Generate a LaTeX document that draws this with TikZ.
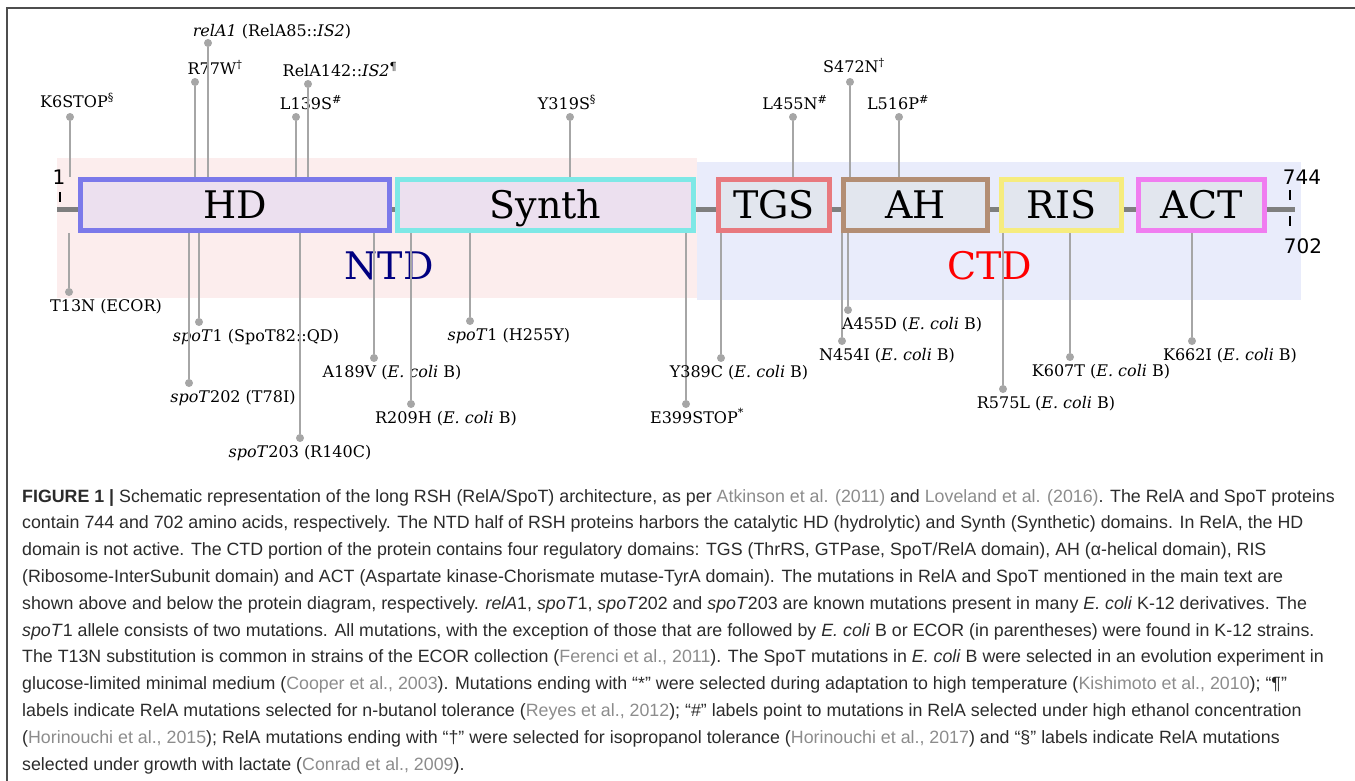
\documentclass[tikz,border=0pt]{standalone}
\usepackage{fontspec}
\setmainfont{DejaVu Serif}
\newfontfamily\numfont{DejaVu Sans}
\newfontfamily\capfont{Liberation Sans}
\usetikzlibrary{positioning}

\definecolor{framegray}{HTML}{4D4D4D}
\definecolor{ntdbg}{HTML}{FCEDED}
\definecolor{ctdbg}{HTML}{E9ECFB}
\definecolor{ntdfill}{HTML}{ECE0EF}
\definecolor{ctdfill}{HTML}{E2E6EE}
\definecolor{hdcol}{HTML}{7B79EA}
\definecolor{synthcol}{HTML}{7EE8E6}
\definecolor{tgscol}{HTML}{E8797E}
\definecolor{ahcol}{HTML}{B38E74}
\definecolor{riscol}{HTML}{F6EC7E}
\definecolor{actcol}{HTML}{F07DF0}
\definecolor{stemgray}{HTML}{A6A6A6}
\definecolor{chaingray}{HTML}{7F7F7F}
\definecolor{ntdnavy}{HTML}{000080}
\definecolor{citegray}{HTML}{8C8C8C}
\definecolor{captext}{HTML}{2B2B2B}

\begin{document}
\begin{tikzpicture}[
  x=1pt, y=-1pt,
  dombox/.style 2 args={
    draw=#1, fill=#2, line width=5pt, minimum height=51pt, inner sep=0pt,
    text height=27.5pt, text depth=0pt, font=\fontsize{38}{40}\selectfont
  },
  half/.style={font=\fontsize{38}{40}\selectfont, inner sep=0pt, anchor=base},
  mut/.style={font=\fontsize{16}{18}\selectfont, inner sep=0pt, anchor=base},
  mdot/.style={circle, fill=stemgray, minimum size=8pt, inner sep=0pt},
  stemline/.style={draw=stemgray, line width=2pt},
  num/.style={font=\numfont\fontsize{20}{22}\selectfont, inner sep=0pt, anchor=base},
  endtick/.style={draw=black, line width=1.6pt},
  capnode/.style={font=\capfont\fontsize{17.8}{26.8}\selectfont, text=captext,
    align=left, inner sep=0pt, anchor=north west}
]
\useasboundingbox (0,0) rectangle (1355,781);
\draw[framegray, line width=2pt] (7,781) -- (7,8) -- (1355,8);

% NTD / CTD halves
\fill[ntdbg] (57,158) rectangle (697,298);
\fill[ctdbg] (697,162) rectangle (1301,300);
\node[half, text=ntdnavy] (ntd) at (389,279) {NTD};
\node[half, text=red] (ctd) at (990,279) {CTD};

% chain and domains
\coordinate (nterm) at (57,209);
\coordinate (cterm) at (1295,209);
\draw[chaingray, line width=5pt] (nterm) -- (cterm);

\node[dombox={hdcol}{ntdfill}, minimum width=309pt] (hd) at (235,205) {HD};
\node[dombox={synthcol}{ntdfill}, minimum width=296pt] (synth) at (545.5,205) {Synth};
\node[dombox={tgscol}{ctdfill}, minimum width=111pt] (tgs) at (774,205) {TGS};
\node[dombox={ahcol}{ctdfill}, minimum width=144pt] (ah) at (915.5,205) {AH};
\node[dombox={riscol}{ctdfill}, minimum width=120pt] (ris) at (1061.5,205) {RIS};
\node[dombox={actcol}{ctdfill}, minimum width=126pt] (act) at (1201.5,205) {ACT};

\node[num] (aa1) at (59,185) {1};
\node[num] (aa744) at (1302,185) {744};
\node[num] (aa702) at (1303,253) {702};
\draw[endtick] (60,192) -- (60,202);
\draw[endtick] (1290,190) -- (1290,200);
\draw[endtick] (1290,216) -- (1290,226);

% RelA mutations (above)
\node[mdot] (k6) at (70,117) {};
\draw[stemline] (k6) -- (k6 |- hd.north);
\node[mut] (k6l) at (77,108) {K6STOP\textsuperscript{§}};

\node[mdot] (r77) at (195,82) {};
\draw[stemline] (r77) -- (r77 |- hd.north);
\node[mut] (r77l) at (215,75) {R77W\textsuperscript{†}};

\node[mdot] (rela1) at (208,43) {};
\draw[stemline] (rela1) -- (rela1 |- hd.north);
\node[mut] (rela1l) at (272,37) {\textit{relA1} (RelA85::\textit{IS2})};

\node[mdot] (l139) at (296,117) {};
\draw[stemline] (l139) -- (l139 |- hd.north);
\node[mut] (l139l) at (311,110) {L139S\textsuperscript{\#}};

\node[mdot] (r142) at (308,84) {};
\draw[stemline] (r142) -- (r142 |- hd.north);
\node[mut] (r142l) at (340,77) {RelA142::\textit{IS2}\textsuperscript{¶}};

\node[mdot] (y319) at (570,117) {};
\draw[stemline] (y319) -- (y319 |- synth.north);
\node[mut] (y319l) at (567,110) {Y319S\textsuperscript{§}};

\node[mdot] (l455) at (793,117) {};
\draw[stemline] (l455) -- (l455 |- tgs.north);
\node[mut] (l455l) at (795,110) {L455N\textsuperscript{\#}};

\node[mdot] (s472) at (850,82) {};
\draw[stemline] (s472) -- (s472 |- ah.north);
\node[mut] (s472l) at (854,73) {S472N\textsuperscript{†}};

\node[mdot] (l516) at (899,117) {};
\draw[stemline] (l516) -- (l516 |- ah.north);
\node[mut] (l516l) at (898,110) {L516P\textsuperscript{\#}};

% SpoT mutations (below)
\node[mdot] (t13) at (69,292) {};
\draw[stemline] (t13) -- (t13 |- hd.south);
\node[mut] (t13l) at (106,311) {T13N (ECOR)};

\node[mdot] (spot1a) at (199,322) {};
\draw[stemline] (spot1a) -- (spot1a |- hd.south);
\node[mut] (spot1al) at (256,341) {\textit{spoT}1 (SpoT82::QD)};

\node[mdot] (spot202) at (189,383) {};
\draw[stemline] (spot202) -- (spot202 |- hd.south);
\node[mut] (spot202l) at (233,402) {\textit{spoT}202 (T78I)};

\node[mdot] (spot203) at (300,438) {};
\draw[stemline] (spot203) -- (spot203 |- hd.south);
\node[mut] (spot203l) at (300,457) {\textit{spoT}203 (R140C)};

\node[mdot] (a189) at (374,358) {};
\draw[stemline] (a189) -- (a189 |- hd.south);
\node[mut] (a189l) at (392,377) {A189V (\textit{E. coli} B)};

\node[mdot] (r209) at (411,404) {};
\draw[stemline] (r209) -- (r209 |- synth.south);
\node[mut] (r209l) at (446,423) {R209H (\textit{E. coli} B)};

\node[mdot] (spot1b) at (470,321) {};
\draw[stemline] (spot1b) -- (spot1b |- synth.south);
\node[mut] (spot1bl) at (509,340) {\textit{spoT}1 (H255Y)};

\node[mdot] (e399) at (686,404) {};
\draw[stemline] (e399) -- (e399 |- synth.south);
\node[mut] (e399l) at (697,423) {E399STOP\textsuperscript{*}};

\node[mdot] (y389) at (721,358) {};
\draw[stemline] (y389) -- (y389 |- tgs.south);
\node[mut] (y389l) at (739,377) {Y389C (\textit{E. coli} B)};

\node[mdot] (n454) at (842,341) {};
\draw[stemline] (n454) -- (n454 |- ah.south);
\node[mut] (n454l) at (887,360) {N454I (\textit{E. coli} B)};

\node[mdot] (a455) at (848,310) {};
\draw[stemline] (a455) -- (a455 |- ah.south);
\node[mut] (a455l) at (912,329) {A455D (\textit{E. coli} B)};

\node[mdot] (r575) at (1003,389) {};
\draw[stemline] (r575) -- (r575 |- ris.south);
\node[mut] (r575l) at (1046,408) {R575L (\textit{E. coli} B)};

\node[mdot] (k607) at (1070,357) {};
\draw[stemline] (k607) -- (k607 |- ris.south);
\node[mut] (k607l) at (1101,376) {K607T (\textit{E. coli} B)};

\node[mdot] (k662) at (1192,341) {};
\draw[stemline] (k662) -- (k662 |- act.south);
\node[mut] (k662l) at (1230,360) {K662I (\textit{E. coli} B)};

% caption
\node[capnode] (cap) at (22,489) {%
  \textbf{FIGURE 1 |} Schematic representation of the long RSH (RelA/SpoT) architecture, as per \textcolor{citegray}{Atkinson et al. (2011)} and \textcolor{citegray}{Loveland et al. (2016)}. The RelA and SpoT proteins\\
  contain 744 and 702 amino acids, respectively. The NTD half of RSH proteins harbors the catalytic HD (hydrolytic) and Synth (Synthetic) domains. In RelA, the HD\\
  domain is not active. The CTD portion of the protein contains four regulatory domains: TGS (ThrRS, GTPase, SpoT/RelA domain), AH (α-helical domain), RIS\\
  (Ribosome-InterSubunit domain) and ACT (Aspartate kinase-Chorismate mutase-TyrA domain). The mutations in RelA and SpoT mentioned in the main text are\\
  shown above and below the protein diagram, respectively. \textit{relA}1, \textit{spoT}1, \textit{spoT}202 and \textit{spoT}203 are known mutations present in many \textit{E. coli} K-12 derivatives. The\\
  \textit{spoT}1 allele consists of two mutations. All mutations, with the exception of those that are followed by \textit{E. coli} B or ECOR (in parentheses) were found in K-12 strains.\\
  The T13N substitution is common in strains of the ECOR collection (\textcolor{citegray}{Ferenci et al., 2011}). The SpoT mutations in \textit{E. coli} B were selected in an evolution experiment in\\
  glucose-limited minimal medium (\textcolor{citegray}{Cooper et al., 2003}). Mutations ending with “*” were selected during adaptation to high temperature (\textcolor{citegray}{Kishimoto et al., 2010}); “¶”\\
  labels indicate RelA mutations selected for n-butanol tolerance (\textcolor{citegray}{Reyes et al., 2012}); “\#” labels point to mutations in RelA selected under high ethanol concentration\\
  (\textcolor{citegray}{Horinouchi et al., 2015}); RelA mutations ending with “†” were selected for isopropanol tolerance (\textcolor{citegray}{Horinouchi et al., 2017}) and “§” labels indicate RelA mutations\\
  selected under growth with lactate (\textcolor{citegray}{Conrad et al., 2009}).};
\end{tikzpicture}
\end{document}
